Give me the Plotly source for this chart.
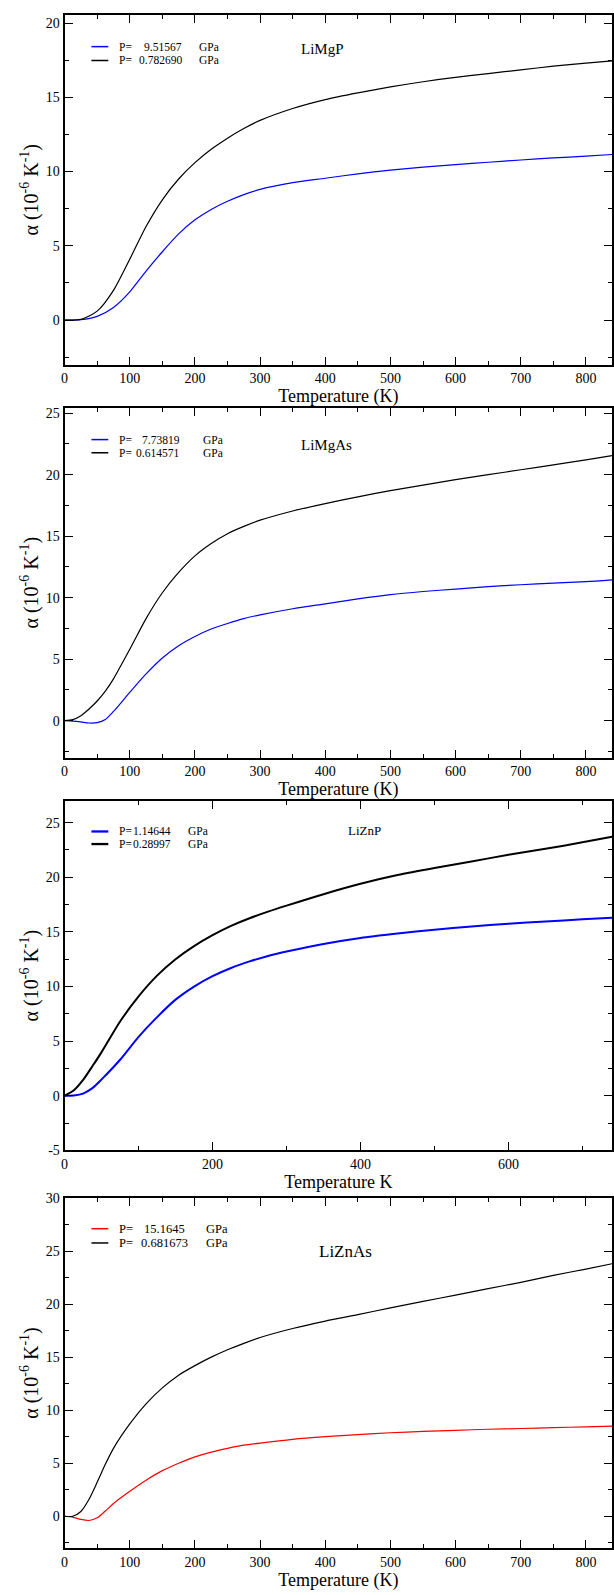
import plotly.graph_objects as go

W, H = 614, 1595

# ---------------- data: thermal expansion coefficient alpha (1e-6 / K) ----------------
# LiMgP
t_limgp = [0, 25, 50, 75, 100, 125, 150, 175, 200, 225, 250, 275, 300, 350, 400, 450, 500,
           550, 600, 650, 700, 750, 800, 840]
limgp_p1 = [0, 0.02, 0.25, 0.85, 1.9, 3.3, 4.6, 5.8, 6.75, 7.45, 8.0, 8.45, 8.8, 9.25, 9.55, 9.85, 10.1,
            10.3, 10.47, 10.63, 10.78, 10.92, 11.04, 11.15]
limgp_p2 = [0, 0.05, 0.6, 2.0, 4.1, 6.3, 8.1, 9.5, 10.6, 11.5, 12.25, 12.9, 13.45, 14.25, 14.85, 15.3, 15.7,
            16.05, 16.35, 16.6, 16.85, 17.1, 17.3, 17.45]
limgp_labels = ["9.51567", "0.782690"]

# LiMgAs
t_limgas = [0, 12.5, 25, 37.5, 50, 62.5, 75, 100, 125, 150, 175, 200, 225, 250, 275, 300, 350, 400,
            450, 500, 550, 600, 650, 700, 750, 800, 840]
limgas_p1 = [0, -0.03, -0.1, -0.19, -0.16, 0.1, 0.75, 2.3, 3.8, 5.1, 6.1, 6.85, 7.45, 7.9, 8.3, 8.6, 9.1, 9.5,
             9.9, 10.25, 10.5, 10.7, 10.9, 11.05, 11.18, 11.3, 11.45]
limgas_p2 = [0, 0.08, 0.4, 0.95, 1.6, 2.4, 3.4, 5.8, 8.3, 10.4, 12.05, 13.4, 14.4, 15.2, 15.8, 16.3, 17.05, 17.65,
             18.2, 18.7, 19.15, 19.6, 20.0, 20.4, 20.8, 21.2, 21.55]
limgas_labels = ["7.73819", "0.614571"]

# LiZnP
t_liznp = [0, 12.5, 25, 37.5, 50, 75, 100, 125, 150, 175, 200, 225, 250, 275, 300, 350, 400,
           450, 500, 550, 600, 650, 700, 740]
liznp_p1 = [0, 0.03, 0.2, 0.7, 1.5, 3.3, 5.4, 7.2, 8.8, 10.0, 10.95, 11.7, 12.3, 12.8, 13.2, 13.9, 14.45,
            14.85, 15.2, 15.5, 15.75, 15.95, 16.15, 16.3]
liznp_p2 = [0, 0.5, 1.45, 2.7, 4.0, 6.8, 9.1, 11.0, 12.5, 13.7, 14.7, 15.55, 16.25, 16.85, 17.4, 18.45, 19.4,
            20.2, 20.85, 21.45, 22.05, 22.6, 23.2, 23.7]
liznp_labels = ["1.14644", "0.28997"]

# LiZnAs
t_liznas = [0, 12.5, 25, 37.5, 50, 62.5, 75, 100, 125, 150, 175, 200, 225, 250, 275, 300, 350, 400,
            450, 500, 550, 600, 650, 700, 750, 800, 840]
liznas_p1 = [0, -0.08, -0.3, -0.4, -0.15, 0.5, 1.2, 2.35, 3.4, 4.3, 5.0, 5.6, 6.05, 6.4, 6.7, 6.9, 7.25, 7.5,
             7.7, 7.87, 8.0, 8.1, 8.2, 8.27, 8.35, 8.43, 8.5]
liznas_p2 = [0, 0.0, 0.45, 1.6, 3.2, 4.9, 6.4, 8.7, 10.6, 12.1, 13.3, 14.2, 15.0, 15.7, 16.3, 16.85, 17.7, 18.4,
             19.0, 19.65, 20.25, 20.85, 21.45, 22.05, 22.7, 23.3, 23.8]
liznas_labels = ["15.1645", "0.681673"]

# tick labels
x_ticks_a = [0, 100, 200, 300, 400, 500, 600, 700, 800]
x_ticks_b = [0, 200, 400, 600]
y_ticks_a = [0, 5, 10, 15, 20]
y_ticks_b = [0, 5, 10, 15, 20, 25]
y_ticks_c = [-5, 0, 5, 10, 15, 20, 25]
y_ticks_d = [0, 5, 10, 15, 20, 25, 30]

FONT = "Liberation Serif, Times New Roman, Times, serif"
BLUE, BLACK, RED = "#0000ff", "#000000", "#ff0000"

# panel geometry in pixels (top, bottom) of each plot area
panels = [
    dict(name="LiMgP", t=t_limgp, lo=limgp_p1, hi=limgp_p2, labels=limgp_labels, c1=BLUE,
         top=8, bot=361, xr=[0, 840], xt=x_ticks_a, xminor=50, yr=[-3, 20.55], yt=y_ticks_a,
         lw=1.2, xtitle="Temperature (K)",
         leg_y=[40, 54], val_x=[139, 134], gpa_x=194, leg_fs=11.5,
         comp_xy=(321, 42), comp_fs=15),
    dict(name="LiMgAs", t=t_limgas, lo=limgas_p1, hi=limgas_p2, labels=limgas_labels, c1=BLUE,
         top=404.7, bot=757.7, xr=[0, 840], xt=x_ticks_a, xminor=50, yr=[-3, 25.43], yt=y_ticks_b,
         lw=1.2, xtitle="Temperature (K)",
         leg_y=[436.7, 450], val_x=[137, 131], gpa_x=198, leg_fs=11.5,
         comp_xy=(325, 441.7), comp_fs=15),
    dict(name="LiZnP", t=t_liznp, lo=liznp_p1, hi=liznp_p2, labels=liznp_labels, c1=BLUE,
         top=801.3, bot=1154.3, xr=[0, 740], xt=x_ticks_b, xminor=100, yr=[-5, 27], yt=y_ticks_c,
         lw=2, xtitle="Temperature K",
         leg_y=[832.3, 845], val_x=[128, 128], gpa_x=183, leg_fs=11.5,
         comp_xy=(363, 831.7), comp_fs=13),
    dict(name="LiZnAs", t=t_liznas, lo=liznas_p1, hi=liznas_p2, labels=liznas_labels, c1=RED,
         top=1202.3, bot=1555.7, xr=[0, 840], xt=x_ticks_a, xminor=50, yr=[-3, 30], yt=y_ticks_d,
         lw=1.2, xtitle="Temperature (K)",
         leg_y=[1233.3, 1247.7], val_x=[139, 136], gpa_x=201, leg_fs=12.5,
         comp_xy=(344, 1256.7), comp_fs=17),
]

X0, X1 = 61, 612

fig = go.Figure()
annotations = []
shapes = []

for i, p in enumerate(panels, start=1):
    sfx = "" if i == 1 else str(i)
    xa, ya = "x" + sfx, "y" + sfx
    for ys, col in ((p["lo"], p["c1"]), (p["hi"], BLACK)):
        fig.add_trace(go.Scatter(
            x=p["t"], y=ys, mode="lines", xaxis=xa, yaxis=ya,
            line=dict(color=col, width=p["lw"], shape="spline", smoothing=0.7),
            showlegend=False, hoverinfo="skip"))

    axis_common = dict(
        ticks="inside", ticklen=8, tickwidth=1.4, tickcolor="black",
        showline=True, linewidth=2, linecolor="black", mirror="allticks",
        showgrid=False, zeroline=False,
        tickfont=dict(family=FONT, size=14, color="black"),
    )
    fig.layout["xaxis" + sfx] = dict(
        axis_common, domain=[X0 / W, X1 / W], range=p["xr"], anchor=ya,
        tickmode="array", tickvals=p["xt"], ticktext=[str(v) for v in p["xt"]],
        minor=dict(ticks="inside", dtick=p["xminor"], tick0=0, ticklen=4, tickwidth=1.4, tickcolor="black"),
        title=dict(text=p["xtitle"], font=dict(family=FONT, size=18, color="black"), standoff=1),
    )
    fig.layout["yaxis" + sfx] = dict(
        axis_common, domain=[1 - p["bot"] / H, 1 - p["top"] / H], range=p["yr"], anchor=xa,
        tickmode="array", tickvals=p["yt"], ticktext=[str(v) for v in p["yt"]],
        minor=dict(ticks="inside", dtick=2.5, tick0=0, ticklen=4, tickwidth=1.4, tickcolor="black"),
        title=dict(text="α (10<sup>-6</sup> K<sup>-1</sup>)",
                   font=dict(family=FONT, size=20, color="black"), standoff=2),
    )

    # legend block (line sample + pressure text)
    for row, col in enumerate((p["c1"], BLACK)):
        yy = 1 - p["leg_y"][row] / H
        shapes.append(dict(type="line", xref="paper", yref="paper",
                           x0=88 / W, x1=105 / W, y0=yy, y1=yy,
                           line=dict(color=col, width=p["lw"] + 0.3)))
        lf = dict(family=FONT, size=p["leg_fs"], color="black")
        annotations.append(dict(xref="paper", yref="paper", x=114 / W, y=yy, text="P=",
                                showarrow=False, xanchor="left", yanchor="middle", font=lf))
        annotations.append(dict(xref="paper", yref="paper", x=p["val_x"][row] / W, y=yy,
                                text=p["labels"][row], showarrow=False,
                                xanchor="left", yanchor="middle", font=lf))
        annotations.append(dict(xref="paper", yref="paper", x=p["gpa_x"] / W, y=yy, text="GPa",
                                showarrow=False, xanchor="left", yanchor="middle", font=lf))

    cx, cy = p["comp_xy"]
    annotations.append(dict(xref="paper", yref="paper", x=cx / W, y=1 - cy / H, text=p["name"],
                            showarrow=False, xanchor="center", yanchor="middle",
                            font=dict(family=FONT, size=p["comp_fs"], color="black")))

fig.update_layout(
    width=W, height=H, autosize=False,
    margin=dict(l=0, r=0, t=0, b=0),
    paper_bgcolor="white", plot_bgcolor="white",
    showlegend=False,
    annotations=annotations, shapes=shapes,
    font=dict(family=FONT, color="black"),
)

fig.write_html("out.html")
